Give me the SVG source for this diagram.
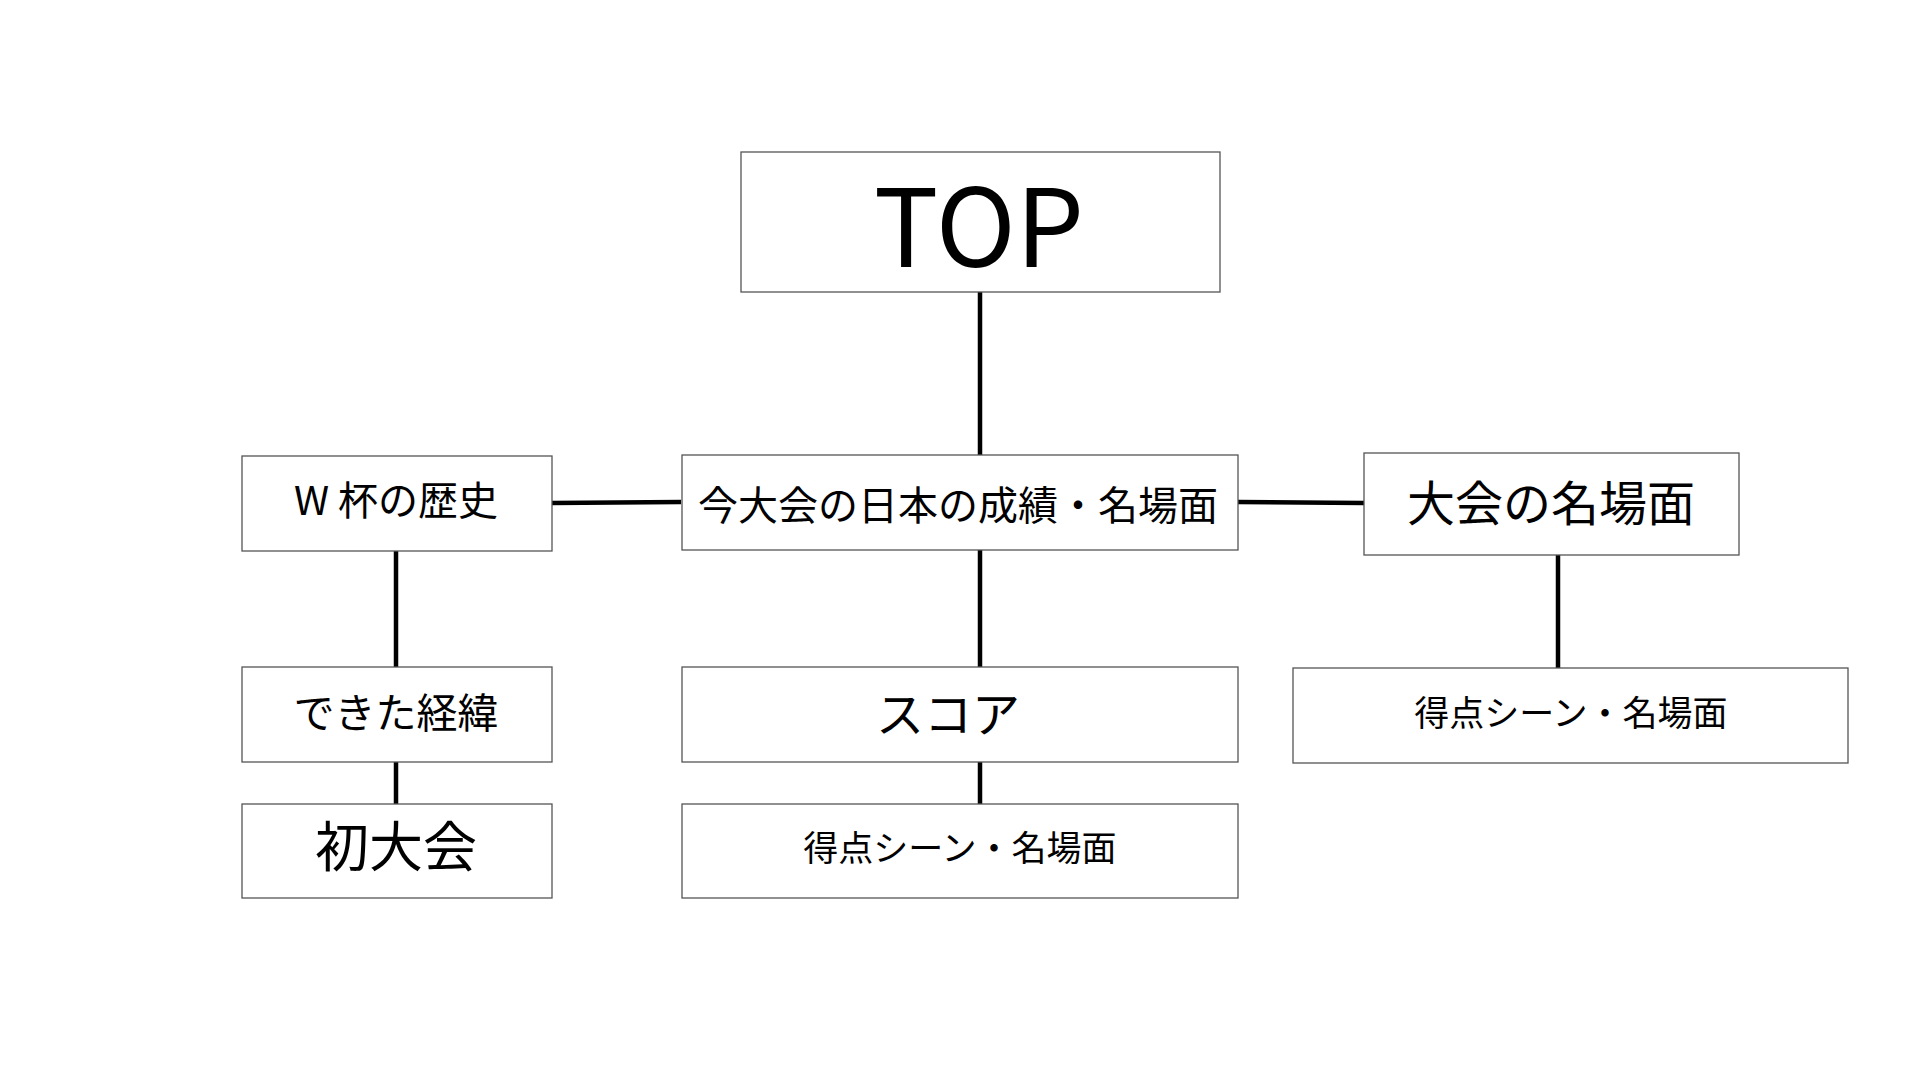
<svg xmlns="http://www.w3.org/2000/svg" width="1920" height="1080" viewBox="0 0 1920 1080">
<style>
.box{fill:#fff;stroke:#555;stroke-width:1.3}
.t{font-family:"Noto Sans CJK JP","Noto Sans",sans-serif;fill:#000;text-anchor:middle;dominant-baseline:central}
.c{stroke:#000;stroke-width:4.5;fill:none}
</style>
<rect width="1920" height="1080" fill="#fff"/>
<g id="connectors">
<line class="c" x1="980" y1="292" x2="980" y2="455"/>
<line class="c" x1="551" y1="503" x2="681" y2="502"/>
<line class="c" x1="1238" y1="502" x2="1364" y2="503"/>
<line class="c" x1="396" y1="551" x2="396" y2="667"/>
<line class="c" x1="396" y1="762" x2="396" y2="804"/>
<line class="c" x1="980" y1="550" x2="980" y2="667"/>
<line class="c" x1="980" y1="762" x2="980" y2="804"/>
<line class="c" x1="1558" y1="555" x2="1558" y2="668"/>
</g>
<g id="top">
<rect class="box" x="741" y="152" width="479" height="140"/>
<text class="t" x="979" y="220" font-size="108">TOP</text>
</g>
<g id="history">
<rect class="box" x="242" y="456" width="310" height="95"/>
<text class="t" x="396" y="498" font-size="40">W 杯の歴史</text>
</g>
<g id="japan">
<rect class="box" x="682" y="455" width="556" height="95"/>
<text class="t" x="958" y="503" font-size="40">今大会の日本の成績・名場面</text>
</g>
<g id="scenes">
<rect class="box" x="1364" y="453" width="375" height="102"/>
<text class="t" x="1551" y="500" font-size="48">大会の名場面</text>
</g>
<g id="origin">
<rect class="box" x="242" y="667" width="310" height="95"/>
<text class="t" x="396" y="710" font-size="41">できた経緯</text>
</g>
<g id="first">
<rect class="box" x="242" y="804" width="310" height="94"/>
<text class="t" x="396" y="843" font-size="54">初大会</text>
</g>
<g id="score">
<rect class="box" x="682" y="667" width="556" height="95"/>
<text class="t" x="948" y="711" font-size="48">スコア</text>
</g>
<g id="goal-mid">
<rect class="box" x="682" y="804" width="556" height="94"/>
<text class="t" x="960" y="845" font-size="35">得点シーン・名場面</text>
</g>
<g id="goal-right">
<rect class="box" x="1293" y="668" width="555" height="95"/>
<text class="t" x="1571" y="710" font-size="35">得点シーン・名場面</text>
</g>
</svg>
